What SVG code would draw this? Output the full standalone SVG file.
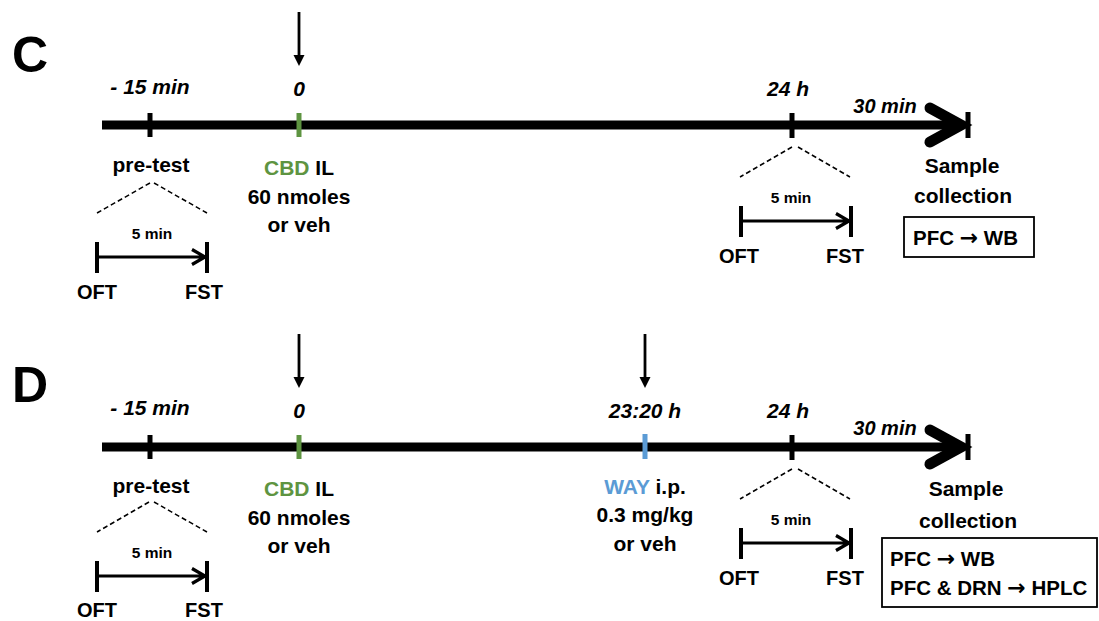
<svg xmlns="http://www.w3.org/2000/svg" width="1099" height="621" viewBox="0 0 1099 621">
<defs>
<style>
text{font-family:"Liberation Sans",Arial,sans-serif;font-weight:bold;fill:#000}
.t{font-size:21px;text-anchor:middle}
.i{font-size:21px;font-style:italic;text-anchor:middle}
.s{font-size:15.5px;text-anchor:middle}
.o{font-size:20px;text-anchor:middle}
.b{font-size:20.5px}
.ar{font-family:"DejaVu Sans",sans-serif;font-weight:bold;font-size:22px}
.big{font-size:50px}
.g{fill:#5e9441}
.bl{fill:#5b9bd5}
.axis{stroke:#000;stroke-width:9;fill:none}
.head{stroke:#000;stroke-width:11;fill:none;stroke-linecap:round;stroke-linejoin:miter}
.tick{stroke:#000;stroke-width:5}
.gt{stroke:#5e9441;stroke-width:5}
.bt{stroke:#5b9bd5;stroke-width:5}
.dash{stroke:#000;stroke-width:1.5;stroke-dasharray:5 3;fill:none}
.sub{stroke:#000;stroke-width:3.2;fill:none}
.st{stroke:#000;stroke-width:4}
.box{fill:#fff;stroke:#000;stroke-width:1.8}
.arr{stroke:#000;stroke-width:2.8}
</style>
<g id="inj"><line class="arr" x1="0" y1="0" x2="0" y2="44"/><polygon points="-5.5,43 5.5,43 0,54"/></g>
<g id="sub5">
<path class="sub" d="M0,15 H108 M95,7.5 L108,15 L95,22.5"/>
<line class="st" x1="0" y1="0" x2="0" y2="31"/>
<line class="st" x1="110" y1="0" x2="110" y2="31"/>
</g>
</defs>

<!-- Panel C -->
<g id="panelC">
<text class="big" x="12" y="72">C</text>
<g id="connectorsC">
<line class="axis" x1="102" y1="125" x2="958" y2="125"/>
<path class="head" d="M930,108 L961,125 L930,142"/>
<line class="tick" x1="968" y1="112" x2="968" y2="138"/>
<line class="tick" x1="150" y1="113" x2="150" y2="137"/>
<line class="gt" x1="299" y1="113" x2="299" y2="137"/>
<line class="tick" x1="792" y1="113" x2="792" y2="138"/>
<use href="#inj" x="299" y="12"/>
<path class="dash" d="M150,183 L97,213 M154,183 L207,213"/>
<path class="dash" d="M792,147 L740,177 M798,147 L850,177"/>
<use href="#sub5" x="97" y="242"/>
<use href="#sub5" x="741" y="206"/>
</g>
<g id="labelsC">
<text class="i" x="150" y="94">- 15 min</text>
<text class="i" x="299" y="96">0</text>
<text class="i" x="788" y="96">24 h</text>
<text class="i" x="885" y="113" style="font-size:20px">30 min</text>
</g>
<g id="pretestC">
<text class="t" x="151" y="172">pre-test</text>
<text class="s" x="152" y="239">5 min</text>
<text class="o" x="97" y="299">OFT</text>
<text class="o" x="204" y="299">FST</text>
</g>
<g id="cbdC">
<text class="t" x="299" y="175"><tspan class="g">CBD</tspan> IL</text>
<text class="t" x="299" y="204">60 nmoles</text>
<text class="t" x="299" y="232">or veh</text>
</g>
<g id="testC">
<text class="s" x="791" y="203">5 min</text>
<text class="o" x="739" y="263">OFT</text>
<text class="o" x="845" y="263">FST</text>
</g>
<g id="sampleC">
<text class="t" x="962" y="173">Sample</text>
<text class="t" x="963" y="203">collection</text>
<rect class="box" x="904" y="217" width="130" height="40"/>
<text class="b" x="913" y="245">PFC <tspan class="ar">→</tspan> WB</text>
</g>
</g>

<!-- Panel D -->
<g id="panelD">
<text class="big" x="12" y="402">D</text>
<g id="connectorsD">
<line class="axis" x1="102" y1="447" x2="958" y2="447"/>
<path class="head" d="M930,430 L961,447 L930,464"/>
<line class="tick" x1="968" y1="434" x2="968" y2="460"/>
<line class="tick" x1="150" y1="435" x2="150" y2="459"/>
<line class="gt" x1="299" y1="435" x2="299" y2="459"/>
<line class="bt" x1="645" y1="434" x2="645" y2="459"/>
<line class="tick" x1="792" y1="435" x2="792" y2="460"/>
<use href="#inj" x="299" y="334"/>
<use href="#inj" x="645" y="334"/>
<path class="dash" d="M149,502 L97,532 M154,502 L207,532"/>
<path class="dash" d="M792,469 L740,499 M798,469 L850,499"/>
<use href="#sub5" x="97" y="561"/>
<use href="#sub5" x="741" y="528"/>
</g>
<g id="labelsD">
<text class="i" x="150" y="415">- 15 min</text>
<text class="i" x="299" y="418">0</text>
<text class="i" x="645" y="418">23:20 h</text>
<text class="i" x="788" y="418">24 h</text>
<text class="i" x="885" y="435" style="font-size:20px">30 min</text>
</g>
<g id="pretestD">
<text class="t" x="151" y="493">pre-test</text>
<text class="s" x="152" y="558">5 min</text>
<text class="o" x="97" y="617">OFT</text>
<text class="o" x="204" y="617">FST</text>
</g>
<g id="cbdD">
<text class="t" x="299" y="496"><tspan class="g">CBD</tspan> IL</text>
<text class="t" x="299" y="525">60 nmoles</text>
<text class="t" x="299" y="553">or veh</text>
</g>
<g id="wayD">
<text class="t" x="645" y="494"><tspan class="bl">WAY</tspan> i.p.</text>
<text class="t" x="645" y="522">0.3 mg/kg</text>
<text class="t" x="645" y="551">or veh</text>
</g>
<g id="testD">
<text class="s" x="791" y="525">5 min</text>
<text class="o" x="739" y="585">OFT</text>
<text class="o" x="845" y="585">FST</text>
</g>
<g id="sampleD">
<text class="t" x="966" y="496">Sample</text>
<text class="t" x="968" y="528">collection</text>
<rect class="box" x="882" y="538" width="215" height="69"/>
<text class="b" x="890" y="566">PFC <tspan class="ar">→</tspan> WB</text>
<text class="b" x="890" y="595">PFC &amp; DRN <tspan class="ar">→</tspan> HPLC</text>
</g>
</g>
</svg>
